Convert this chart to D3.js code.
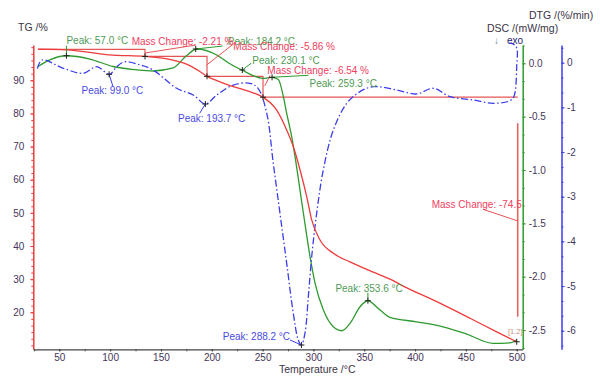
<!DOCTYPE html>
<html>
<head>
<meta charset="utf-8">
<script src="https://cdn.jsdelivr.net/npm/d3@7"></script>
<style>
  body { margin: 0; background: #fff; }
  svg text { font-family: Arial, "Liberation Sans", sans-serif; }
</style>
</head>
<body>
<div id="chart"></div>
<script>
// TG curve (mass %)
var tgTemp = [29.0, 57.3, 102.8, 134.3, 161.9, 175.0, 188.6, 195.3, 205.0, 218.0, 228.0, 240.0, 250.4,
    263.9, 273.7, 280.2, 286.8, 293.4, 298.3, 306.5, 319.6, 336.0, 358.9, 375.4, 388.4, 421.3, 454.1, 480.3, 500.0];
var tgMass = [99.4, 99.2, 97.6, 97.2, 96.1, 94.9, 92.6, 91.2, 89.9, 88.4, 87.5, 86.3, 84.9,
    81.0, 75.0, 70.0, 63.0, 54.9, 47.9, 41.8, 37.8, 35.2, 32.1, 30.0, 27.9, 23.2, 18.2, 14.1, 11.1];

// DSC curve (mW/mg)
var dscTemp = [29.0, 40.0, 57.3, 80.0, 102.8, 125.0, 142.2, 161.9, 175.0, 185.2, 204.9, 217.0, 229.5, 250.4,
    259.0, 265.5, 270.4, 273.7, 278.6, 281.9, 290.1, 296.7, 301.6, 309.8, 319.6, 327.8, 336.0, 345.9,
    353.4, 365.5, 375.4, 401.6, 427.5, 450.8, 476.7, 493.4, 500.0];
var dscVal = [-0.03, 0.03, 0.071, 0.04, -0.03, -0.06, -0.072, -0.044, 0.07, 0.134, 0.078, 0.0, -0.063, -0.141,
    -0.131, -0.152, -0.31, -0.469, -0.688, -0.875, -1.403, -1.813, -2.059, -2.312, -2.469, -2.506, -2.437, -2.281,
    -2.225, -2.312, -2.381, -2.422, -2.469, -2.537, -2.624, -2.619, -2.593];

// DTG curve (%/min)
var dtgTemp = [28.4, 33.0, 54.0, 73.6, 86.8, 99.2, 106.5, 114.0, 129.4, 142.2, 165.5, 181.8, 193.7, 204.9,
    221.2, 237.6, 245.5, 254.1, 260.5, 267.1, 273.7, 280.2, 285.1, 288.2, 291.7, 295.0, 298.3, 303.2,
    309.7, 319.6, 332.8, 345.8, 358.9, 382.0, 401.6, 418.0, 434.4, 457.3, 477.0, 493.4, 497.4, 500.0, 500.0, 496.4, 492.4];
var dtgVal = [-0.13, 0.06, -0.125, -0.237, -0.09, -0.26, -0.09, 0.02, -0.05, -0.163, -0.573, -0.723, -0.925, -0.723,
    -0.5, -0.461, -0.573, -1.133, -2.252, -3.371, -4.491, -5.61, -6.208, -6.32, -6.05, -5.238, -4.343, -3.371,
    -2.402, -1.507, -0.909, -0.649, -0.537, -0.611, -0.7, -0.573, -0.761, -0.835, -0.909, -0.851, -0.745, -0.09, 0.33, 0.42, 0.44];

// mass change steps
var stepTemp = [29.0, 134.3, 195.3, 250.4, 501.0];
var stepLevel = [99.3, 97.2, 91.2, 84.9, 11.1];
var massChange = ["-2.21 %", "-5.86 %", "-6.54 %", "-74.5"];

// peaks
var dscPeakT = [57.0, 184.2, 230.1, 259.3, 353.6];
var dscPeakV = [0.071, 0.134, -0.063, -0.131, -2.225];
var dtgPeakT = [99.0, 193.7, 288.2];
var dtgPeakV = [-0.26, -0.925, -6.32];

var xTicks = d3.range(50, 501, 50);
var tgTicks = d3.range(20, 91, 10);
var dscTicks = [0.0, -0.5, -1.0, -1.5, -2.0, -2.5];
var dtgTicks = [0, -1, -2, -3, -4, -5, -6];

var red = "#ee3b3b", green = "#2f9a2f", blue = "#3c3cee";
var redText = "#f0405e", greenText = "#4f9a55", blueText = "#4a4ae0", tickText = "#45355a";

var width = 600, height = 378;
var plot = {left: 33.3, right: 522.7, top: 45, bottom: 349.3};

var svg = d3.select("#chart").append("svg")
    .attr("width", width)
    .attr("height", height);

var x = d3.scaleLinear().domain([24.4, 505.9]).range([plot.left, plot.right]);
var yTG = d3.scaleLinear().domain([8.83, 100.65]).range([plot.bottom, plot.top]);
var yDSC = d3.scaleLinear().domain([-2.680, 0.1715]).range([plot.bottom, plot.top]);
var yDTG = d3.scaleLinear().domain([-6.416, 0.396]).range([plot.bottom, plot.top]);

function styleAxis(g, color, textColor) {
    g.select(".domain").attr("stroke", color).attr("stroke-width", 1.5);
    g.selectAll(".tick line").attr("stroke", color);
    g.selectAll(".tick text").attr("fill", textColor).style("font-size", "10px");
}

// minor ticks first
svg.append("g").attr("transform", "translate(" + plot.left + ",0)")
    .call(d3.axisLeft(yTG).tickValues(d3.range(10, 101, 2)).tickSize(2).tickFormat(""))
    .call(function(g) { g.select(".domain").remove(); g.selectAll("line").attr("stroke", red); });
svg.append("g").attr("transform", "translate(0," + plot.bottom + ")")
    .call(d3.axisBottom(x).tickValues(d3.range(25, 501, 25)).tickSize(2).tickFormat(""))
    .call(function(g) { g.select(".domain").remove(); g.selectAll("line").attr("stroke", "#444"); });
svg.append("g").attr("transform", "translate(" + plot.right + ",0)")
    .call(d3.axisRight(yDSC).tickValues(d3.range(1, -17, -1).map(function(i) { return i / 6; })).tickSize(2).tickFormat(""))
    .call(function(g) { g.select(".domain").remove(); g.selectAll("line").attr("stroke", green); });
svg.append("g").attr("transform", "translate(561.5,0)")
    .call(d3.axisRight(yDTG).tickValues(d3.range(1, -20, -1).map(function(i) { return i / 3; })).tickSize(2).tickFormat(""))
    .call(function(g) { g.select(".domain").remove(); g.selectAll("line").attr("stroke", blue); });

// main axes
svg.append("g").attr("transform", "translate(" + plot.left + ",0)")
    .call(d3.axisLeft(yTG).tickValues(tgTicks).tickSize(3).tickPadding(6).tickSizeOuter(0))
    .call(styleAxis, red, tickText);
svg.append("g").attr("transform", "translate(0," + plot.bottom + ")")
    .call(d3.axisBottom(x).tickValues(xTicks).tickSize(2).tickPadding(3).tickSizeOuter(0))
    .call(styleAxis, "#444", tickText)
    .call(function(g) { g.select(".domain").attr("stroke-width", 1.2); });
svg.append("g").attr("transform", "translate(" + plot.right + ",0)")
    .call(d3.axisRight(yDSC).tickValues(dscTicks).tickSize(3).tickPadding(3).tickSizeOuter(0)
        .tickFormat(function(d) { return d.toFixed(1); }))
    .call(styleAxis, green, tickText);
svg.append("g").attr("transform", "translate(561.5,0)")
    .call(d3.axisRight(yDTG).tickValues(dtgTicks).tickSize(3).tickPadding(2.5).tickSizeOuter(0)
        .tickFormat(function(d) { return String(d); }))
    .call(styleAxis, blue, tickText);

// axis titles
function label(txt, px, py, color, size) {
    return svg.append("text").attr("x", px).attr("y", py).text(txt)
        .attr("fill", color).style("font-size", (size || 10) + "px");
}
label("TG /%", 18, 30.5, "#3a3346", 10.5);
label("DTG /(%/min)", 529, 18.5, "#3a3346", 10.5);
label("DSC /(mW/mg)", 487, 31.5, "#3a3346", 10.5);
label("\u2193", 494, 44, "#6f8f9a", 10);
label("exo", 507, 44, "#1e1e6e", 10);
label("Temperature /\u00b0C", 279, 372.5, "#3a3346", 10.5);

// mass change step lines
var sx = stepTemp.map(x), sy = stepLevel.map(yTG);
var steps = svg.append("g").attr("stroke", "#e65555").attr("stroke-width", 1.2).attr("fill", "none");
var stepPath = "M" + sx[0] + "," + sy[0];
for (var i = 1; i < 4; i++) {
    stepPath += "H" + sx[i] + "V" + sy[i];
}
stepPath += "H" + sx[4];
steps.append("path").attr("d", stepPath);
steps.append("line").attr("x1", sx[4]).attr("x2", sx[4])
    .attr("y1", sy[3] + 26).attr("y2", sy[4] - 25)
    .attr("stroke-width", 1.6).attr("stroke", "#ec6464");

// curves
var tgLine = d3.line().x(function(d) { return x(d[0]); }).y(function(d) { return yTG(d[1]); }).curve(d3.curveMonotoneX);
var dscLine = d3.line().x(function(d) { return x(d[0]); }).y(function(d) { return yDSC(d[1]); }).curve(d3.curveMonotoneX);
var dtgLine = d3.line().x(function(d) { return x(d[0]); }).y(function(d) { return yDTG(d[1]); }).curve(d3.curveCatmullRom.alpha(0.5));

svg.append("path").datum(d3.zip(dscTemp, dscVal)).attr("d", dscLine)
    .attr("fill", "none").attr("stroke", green).attr("stroke-width", 1.3);
svg.append("path").datum(d3.zip(dtgTemp, dtgVal)).attr("d", dtgLine)
    .attr("fill", "none").attr("stroke", blue).attr("stroke-width", 1.3)
    .attr("stroke-dasharray", "7,2.5,1.5,2.5");
svg.append("path").datum(d3.zip(tgTemp, tgMass)).attr("d", tgLine)
    .attr("fill", "none").attr("stroke", red).attr("stroke-width", 1.3);

// annotations: label offsets (px) relative to the marker, leader end offsets
var dscLayout = [
    {lx: 0, ly: 11.5, ax: 0, ay: -10},
    {lx: 32, ly: 4.5, ax: 27, ay: -3},
    {lx: 10, ly: 6.5, ax: 9, ay: -7},
    {lx: 37.5, ly: -10, ax: 36.5, ay: -2},
    {lx: -32.5, ly: 9, ax: 0, ay: -8}
];
var dtgLayout = [
    {lx: -27.6, ly: -20, ax: 3.7, ay: 11.7},
    {lx: -27.4, ly: -17.8, ax: -5.7, ay: 9.3},
    {lx: -78.7, ly: 5.5, ax: -11.4, ay: -5}
];
var stepLayout = [
    {tx: 131.7, ty: 44.5, x1: 145, y1: 53, x2: 196, y2: 45},
    {tx: 233.3, ty: 50.2, x1: 206.7, y1: 65, x2: 234, y2: 43.5},
    {tx: 267.3, ty: 73.5, x1: 264.7, y1: 86, x2: 270, y2: 75.5},
    {tx: 431.7, ty: 207.5, x1: 483, y1: 209.3, x2: 518, y2: 221}
];

var cross = "M-3,0H3M0,-3V3";
function marker(px, py) {
    svg.append("path").attr("d", cross).attr("transform", "translate(" + px + "," + py + ")")
        .attr("stroke", "#222").attr("stroke-width", 1).attr("fill", "none");
}

var ann = svg.append("g");
dscPeakT.forEach(function(t, i) {
    var px = x(t), py = yDSC(dscPeakV[i]), L = dscLayout[i];
    ann.append("line").attr("x1", px).attr("y1", py).attr("x2", px + L.ax).attr("y2", py + L.ay)
        .attr("stroke", green).attr("stroke-width", 1);
    marker(px, py);
    ann.append("text").attr("x", px + L.lx).attr("y", py - L.ly)
        .text("Peak: " + t.toFixed(1) + " \u00b0C").attr("fill", greenText).style("font-size", "10px");
});
dtgPeakT.forEach(function(t, i) {
    var px = x(t), py = yDTG(dtgPeakV[i]), L = dtgLayout[i];
    ann.append("line").attr("x1", px).attr("y1", py).attr("x2", px + L.ax).attr("y2", py + L.ay)
        .attr("stroke", blue).attr("stroke-width", 1);
    marker(px, py);
    ann.append("text").attr("x", px + L.lx).attr("y", py - L.ly)
        .text("Peak: " + t.toFixed(1) + " \u00b0C").attr("fill", blueText).style("font-size", "10px");
});
massChange.forEach(function(m, i) {
    var L = stepLayout[i];
    ann.append("line").attr("x1", L.x1).attr("y1", L.y1).attr("x2", L.x2).attr("y2", L.y2)
        .attr("stroke", "#e65555").attr("stroke-width", 1);
    ann.append("text").attr("x", L.tx).attr("y", L.ty)
        .text("Mass Change: " + m).attr("fill", redText).style("font-size", "10px");
});
// step markers on TG
for (var j = 1; j < 4; j++) marker(sx[j], sy[j]);
marker(x(tgTemp[tgTemp.length - 1]), yTG(tgMass[tgMass.length - 1]));
ann.append("text").attr("x", 508).attr("y", 333.5).text("[1.2]")
    .attr("fill", "#c9907a").style("font-size", "7.5px");
</script>
</body>
</html>
